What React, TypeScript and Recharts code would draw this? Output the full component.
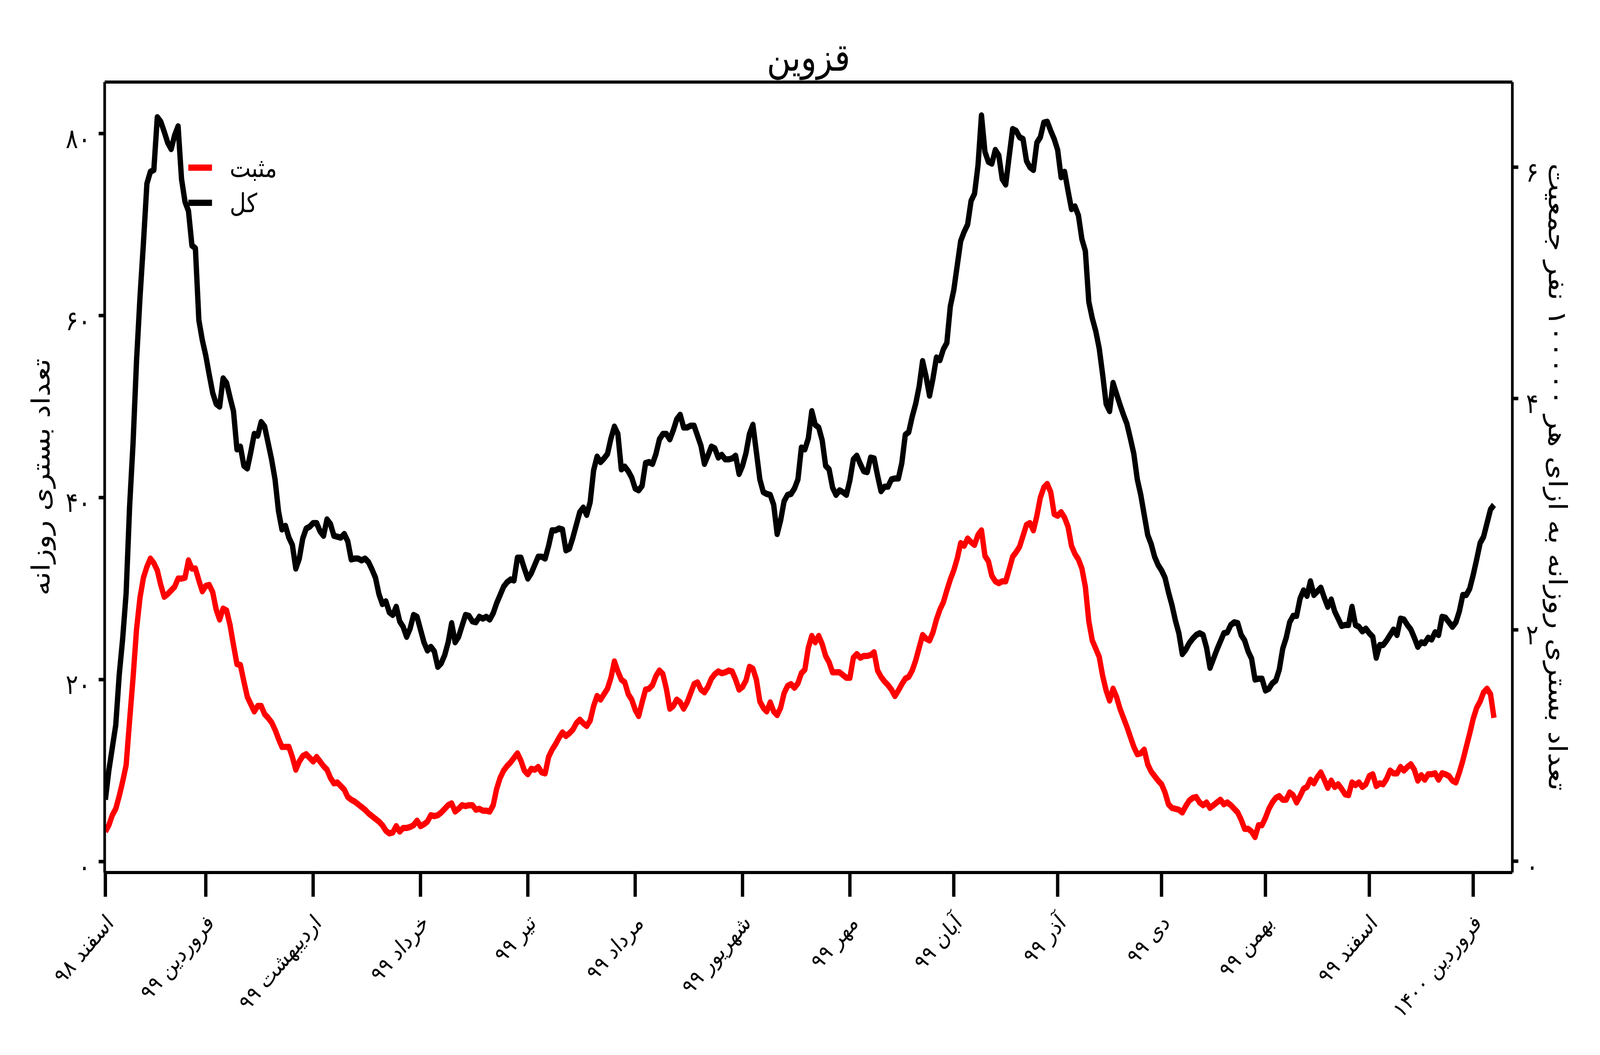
import { useEffect, useState } from 'react'
import { LineChart, Line, XAxis, YAxis, ReferenceLine, Legend } from 'recharts'

// daily hospital admissions, Qazvin, from 1 Esfand 1398
const totalBeds = [
  6.8, 10, 12.5, 15, 20.5, 24.5, 29.5, 39, 46, 55,
  62, 68, 74.5, 75.8, 76, 81.8, 81.3, 80.2, 79, 78.3,
  79.8, 80.8, 75, 72.5, 71.5, 67.7, 67.4, 59.5, 57.3, 55.6,
  53.5, 51.5, 50.3, 50, 53.1, 52.6, 51, 49.5, 45.3, 45.6,
  43.5, 43.2, 45, 47, 46.8, 48.3, 47.8, 46, 44.2, 42,
  38.5, 36.5, 36.9, 35.6, 34.8, 32.2, 33.3, 35.5, 36.6, 36.8,
  37.2, 37.2, 36.3, 35.8, 37.6, 37.1, 35.8, 35.7, 35.6, 36,
  35.2, 33.2, 33.3, 33.3, 33.1, 33.3, 32.9, 32.1, 31.2, 29.4,
  28.3, 28.6, 27.4, 27.1, 28.0, 26.4, 25.8, 24.7, 25.6, 27.1,
  26.9, 25.5, 24.1, 23.2, 23.6, 23.1, 21.4, 21.8, 22.7, 24.1,
  26.2, 24.1, 24.7, 25.9, 27.1, 27.0, 26.4, 26.3, 26.9, 26.7,
  26.9, 26.6, 27.3, 28.4, 29.3, 30.2, 30.7, 31.0, 30.9, 33.4,
  33.4, 32.2, 31.1, 31.7, 32.6, 33.5, 33.5, 33.3, 34.7, 36.4,
  36.4, 36.6, 36.5, 34.2, 34.4, 35.6, 37.0, 38.4, 38.9, 38.1,
  39.5, 43.0, 44.5, 43.9, 44.3, 44.8, 46.5, 47.8, 47.0, 43.1,
  43.4, 42.9, 42.2, 41.0, 40.8, 41.3, 43.8, 43.9, 43.7, 44.8,
  46.4, 47.0, 47.0, 46.4, 47.4, 48.6, 49.1, 47.7, 47.7, 47.9,
  47.9, 46.8, 45.7, 43.7, 44.6, 45.6, 45.4, 44.4, 44.7, 44.2,
  44.2, 44.3, 44.6, 42.6, 43.5, 44.9, 47.0, 48.0, 45.0, 42.0,
  40.6, 40.4, 40.3, 39.2, 36.0, 37.5, 39.6, 40.3, 40.4, 41.0,
  42.0, 45.5, 45.3, 46.5, 49.5, 48.0, 47.7, 46.3, 43.5, 43.1,
  41.1, 40.3, 40.8, 40.6, 40.3, 41.9, 44.2, 44.6, 43.7, 42.9,
  42.8, 44.4, 44.3, 42.4, 40.7, 41.2, 41.2, 42.0, 42.1, 42.1,
  43.8, 46.9, 47.2, 48.9, 50.3, 52.2, 55.0, 53.3, 51.2, 53.1,
  55.4, 55.1, 56.3, 57.0, 61.0, 62.8, 65.5, 68.2, 69.2, 70.0,
  72.6, 73.4, 76.5, 82.0, 78.0, 76.9, 76.7, 78.2, 77.6, 75.0,
  74.4, 77.5, 80.5, 80.3, 79.6, 79.4, 77.0, 76.3, 76.0, 79.0,
  79.6, 81.2, 81.3, 80.3, 79.4, 78.2, 75.2, 75.8, 73.7, 71.7,
  72.0, 71.0, 68.4, 67.1, 61.5, 59.7, 58.3, 56.4, 53.5, 50.3,
  49.5, 52.6, 51.4, 50.2, 49.1, 48.1, 46.5, 44.8, 42.0, 40.3,
  38.1, 35.9, 34.9, 33.5, 32.6, 32.0, 31.2, 29.6, 28.2, 26.5,
  25.1, 22.8, 23.3, 24.0, 24.5, 24.9, 25.1, 24.9, 23.5, 21.3,
  22.3, 23.3, 24.2, 25.1, 25.2, 26.0, 26.3, 26.2, 24.9, 24.3,
  23.1, 22.3, 20.0, 20.1, 20.1, 18.8, 19.0, 19.6, 19.9, 21.1,
  23.4, 24.6, 26.3, 27.0, 27.0, 28.9, 29.8, 29.2, 30.8, 29.3,
  29.7, 30.1, 29.0, 28.0, 28.8, 27.5, 26.7, 25.9, 26.0, 26.0,
  28.0, 26.0, 25.8, 25.3, 25.6, 25.1, 24.7, 22.4, 23.8, 23.8,
  24.3, 24.9, 25.5, 24.9, 26.7, 26.6, 26.0, 25.5, 24.6, 23.6,
  24.1, 24.0, 24.6, 24.4, 25.2, 24.9, 26.9, 26.8, 26.3, 25.8,
  26.3, 27.5, 29.3, 29.3, 30.0, 31.5, 33.2, 35.0, 35.7, 37.2,
  38.7, 39.2,
]

const positiveBeds = [
  3.3, 4.0, 5.1, 5.8, 7.2, 8.8, 10.6, 15.5, 20.2, 25.5,
  29, 31.2, 32.4, 33.3, 32.8, 32, 30.4, 29.1, 29.4, 29.8,
  30.2, 31.1, 31.1, 31.2, 33.1, 32.2, 32.2, 30.9, 29.7, 30.3,
  30.4, 29.6, 27.7, 26.6, 27.8, 27.6, 26, 23.8, 21.7, 21.6,
  19.8, 18.1, 17.3, 16.5, 17.1, 17.1, 16.2, 15.8, 15.3, 14.5,
  13.5, 12.6, 12.6, 12.6, 11.5, 10.1, 11.0, 11.6, 11.8, 11.4,
  11.0, 11.5, 11.0, 10.5, 10.1, 9.2, 8.6, 8.7, 8.3, 7.9,
  7.1, 6.8, 6.6, 6.3, 6.0, 5.7, 5.3, 5.0, 4.7, 4.4,
  4.0, 3.4, 3.1, 3.2, 3.9, 3.3, 3.7, 3.7, 3.8, 4.0,
  4.5, 3.9, 4.1, 4.4, 5.1, 5.0, 5.1, 5.4, 5.8, 6.2,
  6.4, 5.5, 5.8, 6.2, 6.1, 6.2, 6.2, 5.7, 5.8, 5.6,
  5.6, 5.5, 6.2, 8.0, 9.2, 10.0, 10.5, 10.9, 11.4, 11.9,
  11.1, 10.0, 9.6, 10.2, 10.1, 10.4, 9.8, 9.7, 11.5, 12.3,
  12.9, 13.6, 14.2, 13.8, 14.1, 14.5, 15.2, 15.6, 15.2, 14.9,
  15.5, 17.1, 18.2, 17.8, 18.4, 19.0, 20.2, 22.0, 20.9, 20.0,
  19.7, 18.4, 17.8, 16.7, 16.0, 17.5, 18.9, 19.0, 19.4, 20.4,
  21.0, 20.6, 19.0, 16.8, 17.1, 17.8, 17.5, 16.8, 17.5, 18.5,
  19.5, 19.7, 18.9, 18.6, 19.2, 20.1, 20.6, 20.9, 20.7, 20.8,
  21.0, 20.9, 20.0, 18.9, 19.2, 19.9, 21.4, 21.2, 20.0, 17.6,
  16.9, 16.5, 17.5, 16.5, 16.1, 16.9, 18.5, 19.3, 19.5, 19.1,
  19.6, 20.7, 21.1, 23.5, 24.8, 24.1, 24.8, 23.9, 22.6, 21.9,
  20.8, 20.8, 20.8, 20.5, 20.2, 20.2, 22.4, 22.8, 22.4, 22.6,
  22.6, 22.7, 23.0, 21.0, 20.3, 19.8, 19.4, 18.9, 18.2, 18.8,
  19.5, 20.1, 20.3, 21.0, 22.1, 23.5, 24.9, 24.5, 24.3, 25.2,
  26.6, 27.7, 28.5, 29.8, 31.0, 32.0, 33.3, 35.0, 34.7, 35.5,
  35.1, 34.8, 35.9, 36.4, 33.6, 33.0, 31.4, 30.8, 30.6, 30.8,
  30.8, 32.1, 33.5, 34.0, 34.6, 35.8, 37.0, 37.2, 36.4, 38.0,
  40.0, 41.1, 41.5, 40.6, 38.2, 38.0, 38.4, 37.8, 36.8, 34.7,
  33.8, 33.2, 32.2, 30.2, 26.4, 24.3, 23.4, 22.5, 20.4, 18.8,
  17.7, 19.0, 18.1, 16.8, 15.8, 14.8, 13.7, 12.6, 11.8, 11.9,
  12.3, 10.7, 9.9, 9.4, 8.9, 8.5, 7.6, 6.3, 5.9, 5.8,
  5.7, 5.4, 6.1, 6.7, 7.0, 7.1, 6.5, 6.2, 6.5, 5.9,
  6.2, 6.5, 6.8, 6.3, 6.5, 6.2, 5.8, 5.4, 4.6, 3.6,
  3.6, 3.3, 2.7, 4.0, 4.0, 4.8, 5.8, 6.5, 7.0, 7.2,
  6.8, 6.8, 7.6, 7.3, 6.5, 7.2, 8.0, 8.2, 9.0, 8.6,
  9.3, 9.8, 9.0, 8.1, 8.9, 8.2, 8.5, 8.0, 7.4, 7.3,
  8.7, 8.4, 8.7, 8.2, 8.5, 9.4, 9.6, 8.3, 8.6, 8.5,
  9.1, 10.0, 9.7, 9.7, 10.4, 10.0, 10.4, 10.7, 10.1, 8.9,
  9.5, 9.0, 9.6, 9.6, 9.7, 9.0, 9.7, 9.6, 9.4, 8.9,
  8.7, 9.8, 11.1, 12.6, 14.1, 15.7, 16.9, 17.6, 18.6, 19.0,
  18.4, 15.8,
]

const monthStartDay = [0, 29, 60, 91, 122, 153, 184, 215, 245, 275, 305, 335, 365, 395]
const monthLabels = [
  'اسفند ۹۸', 'فروردین ۹۹', 'اردیبهشت ۹۹', 'خرداد ۹۹', 'تیر ۹۹', 'مرداد ۹۹', 'شهریور ۹۹',
  'مهر ۹۹', 'آبان ۹۹', 'آذر ۹۹', 'دی ۹۹', 'بهمن ۹۹', 'اسفند ۹۹', 'فروردین ۱۴۰۰',
]
const leftTicks = [0, 20, 40, 60, 80]
const rightTicks = [0, 2, 4, 6]

const rows = totalBeds.map((total, day) => ({ day, total, positive: positiveBeds[day] }))

const W = 4800
const H = 2700
const FONT = '"DejaVu Sans", sans-serif'
const LEFT_MAX = 85.66
const toFa = (v: number | string) => String(v).replace(/\d/g, (d) => '۰۱۲۳۴۵۶۷۸۹'[+d])

function MonthTick({ x, y, payload }: any) {
  const label = monthLabels[monthStartDay.indexOf(payload.value)]
  const ax = x + 28
  const ay = y + 70
  return (
    <text x={ax} y={ay} textAnchor="end" fontSize={58} fontFamily={FONT} fill="#000" transform={`rotate(-45 ${ax} ${ay})`}>
      {label}
    </text>
  )
}

function LeftTick({ x, y, payload }: any) {
  return (
    <text x={x} y={y + 37} textAnchor="end" fontSize={70} fontFamily={FONT} fill="#000">
      {toFa(payload.value)}
    </text>
  )
}

function RightTick({ x, y, payload }: any) {
  return (
    <text x={x + 23} y={y + 37} textAnchor="start" fontSize={70} fontFamily={FONT} fill="#000">
      {toFa(payload.value)}
    </text>
  )
}

const leftTitle = () => (
  <text x={123} y={1221} textAnchor="middle" dominantBaseline="central" fontSize={76} fontFamily={FONT} fill="#000" transform="rotate(-90 123 1221)">
    تعداد بستری روزانه
  </text>
)

const rightTitle = () => (
  <text x={4673} y={1221} textAnchor="middle" dominantBaseline="central" fontSize={76} fontFamily={FONT} fill="#000" transform="rotate(90 4673 1221)">
    تعداد بستری روزانه به ازای هر ۱۰۰۰۰۰ نفر جمعیت
  </text>
)

const legendItems = [
  { name: 'مثبت', color: '#ff0000' },
  { name: 'کل', color: '#000000' },
]

function LegendBox() {
  return (
    <svg width={420} height={220} style={{ overflow: 'visible' }}>
      {legendItems.map((it, i) => (
        <g key={it.name}>
          <line x1={5} x2={76} y1={49 + i * 90} y2={49 + i * 90} stroke={it.color} strokeWidth={16} />
          <text x={129} y={73 + i * 90} fontSize={67} fontFamily={FONT} fill="#000">{it.name}</text>
        </g>
      ))}
    </svg>
  )
}

// the photographed viewport may differ from 4800x2700 css pixels: stretch the drawing to fill it
const fit = () => ({ sx: window.innerWidth / W, sy: window.innerHeight / H })

export default function App() {
  const [scale, setScale] = useState(fit)
  useEffect(() => {
    const onResize = () => setScale(fit())
    window.addEventListener('resize', onResize)
    return () => window.removeEventListener('resize', onResize)
  }, [])

  return (
    <div style={{ position: 'fixed', left: 0, top: 0, width: W * scale.sx, height: H * scale.sy, overflow: 'hidden', background: '#fff' }}>
      <div style={{ position: 'relative', width: W, height: H, transform: `scale(${scale.sx}, ${scale.sy})`, transformOrigin: '0 0', fontFamily: FONT }}>
        <div style={{ position: 'absolute', left: 314, top: 98, width: 4223, textAlign: 'center', fontSize: 98, lineHeight: '98px', color: '#000' }}>
          قزوین
        </div>
        <LineChart width={W} height={H} data={rows} margin={{ top: 210, right: 0, bottom: 0, left: 0 }}>
          <XAxis
            dataKey="day" type="number" domain={[-0.2, 406.3]} allowDataOverflow ticks={monthStartDay}
            height={467} tickSize={62} tickMargin={0} tick={<MonthTick />} interval={0}
            axisLine={{ stroke: '#000', strokeWidth: 8 }} tickLine={{ stroke: '#000', strokeWidth: 10 }}
          />
          <YAxis
            yAxisId="left" orientation="left" domain={[-1.2, LEFT_MAX]} allowDataOverflow ticks={leftTicks}
            width={314} tickSize={18} tickMargin={24} tick={<LeftTick />} interval={0} label={leftTitle}
            axisLine={{ stroke: '#000', strokeWidth: 8 }} tickLine={{ stroke: '#000', strokeWidth: 9 }}
          />
          <YAxis
            yAxisId="right" orientation="right" domain={[-0.098, 6.736]} allowDataOverflow ticks={rightTicks}
            width={263} tickSize={18} tickMargin={0} tick={<RightTick />} interval={0} label={rightTitle}
            axisLine={{ stroke: '#000', strokeWidth: 8 }} tickLine={{ stroke: '#000', strokeWidth: 9 }}
          />
          <ReferenceLine yAxisId="left" y={LEFT_MAX} stroke="#000" strokeWidth={8} />
          <Legend
            layout="vertical" align="center" verticalAlign="middle" content={() => <LegendBox />}
            wrapperStyle={{ position: 'absolute', left: 560, top: 380, width: 420, height: 220 }}
          />
          <Line yAxisId="left" dataKey="positive" stroke="#ff0000" strokeWidth={16} dot={false} strokeLinejoin="round" isAnimationActive={false} />
          <Line yAxisId="left" dataKey="total" stroke="#000000" strokeWidth={16} dot={false} strokeLinejoin="round" isAnimationActive={false} />
        </LineChart>
      </div>
    </div>
  )
}
